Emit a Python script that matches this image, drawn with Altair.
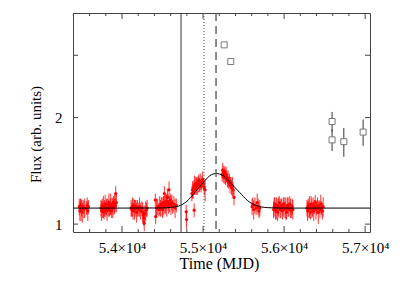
import altair as alt
import pandas as pd

W, H = 297, 219

# ---- red light-curve points (MJD, flux, error) ----
red_mjd = [
    53472, 53480, 53487, 53494, 53502, 53510, 53520, 53530, 53540, 53562, 53570, 53578, 53585,
    53740, 53748, 53755, 53762, 53770, 53778, 53785, 53792, 53800, 53808, 53815, 53822, 53830,
    53838, 53845, 53852, 53860, 53868, 53876, 53885, 53893, 53900, 53908, 53915, 53922, 53930,
    54112, 54120, 54128, 54136, 54145, 54153, 54162, 54170, 54180, 54190, 54200, 54215, 54230,
    54245, 54255, 54262, 54268, 54274, 54282, 54292, 54300, 54310,
    54410, 54415, 54425, 54440, 54455, 54465, 54475, 54485, 54495, 54502, 54510, 54516, 54522,
    54530, 54538, 54545, 54552, 54560, 54568, 54575, 54580, 54588, 54596, 54605, 54615, 54625,
    54640, 54655, 54670,
    54792, 54796, 54890,
    54862, 54870, 54878, 54885, 54895, 54903, 54910, 54918, 54925, 54933, 54940, 54948, 54956,
    54965, 54975, 54985, 54995, 55005, 55015, 55025,
    55235, 55242, 55248, 55255, 55262, 55270, 55278, 55285, 55293, 55300, 55308, 55316, 55325,
    55334, 55343, 55352, 55362, 55372, 55382,
    55605, 55615, 55625, 55640, 55655, 55668, 55680, 55690, 55700,
    55870, 55878, 55885, 55895, 55903, 55912, 55920, 55930, 55940, 55950, 55960, 55970, 55980,
    55990, 56000, 56010, 56020, 56030, 56040, 56050, 56060, 56070, 56080, 56090, 56100, 56108,
    56282, 56290, 56298, 56306, 56315, 56324, 56333, 56342, 56350, 56358, 56366, 56375, 56384,
    56393, 56402, 56412, 56422, 56432, 56442, 56452, 56462, 56472, 56482,
]
red_flux = [
    1.12, 1.09, 1.13, 1.10, 1.11, 1.08, 1.12, 1.10, 1.11, 1.11, 1.13, 1.09, 1.12,
    1.11, 1.09, 1.13, 1.10, 1.12, 1.08, 1.11, 1.14, 1.10, 1.12, 1.09, 1.13, 1.11,
    1.15, 1.10, 1.12, 1.14, 1.09, 1.13, 1.11, 1.15, 1.12, 1.14, 1.13, 1.22, 1.15,
    1.11, 1.10, 1.12, 1.09, 1.13, 1.10, 1.11, 1.12, 1.08, 1.11, 1.10, 1.12, 1.09,
    1.11, 1.08, 1.06, 1.04, 1.005, 1.07, 1.09, 1.10, 1.11,
    1.17, 1.05, 1.11, 1.12, 1.10, 1.13, 1.11, 1.14, 1.12, 1.10, 1.15, 1.13, 1.22,
    1.12, 1.14, 1.16, 1.13, 1.19, 1.15, 1.12, 1.25, 1.14, 1.17, 1.13, 1.15, 1.12,
    1.14, 1.11, 1.13,
    1.083, 1.03, 1.095,
    1.22, 1.25, 1.23, 1.27, 1.29, 1.26, 1.30, 1.28, 1.31, 1.27, 1.30, 1.33, 1.29,
    1.32, 1.28, 1.31, 1.34, 1.30, 1.27, 1.25,
    1.38, 1.42, 1.36, 1.40, 1.37, 1.41, 1.35, 1.38, 1.36, 1.33, 1.35, 1.31, 1.33,
    1.29, 1.31, 1.27, 1.28, 1.25, 1.19,
    1.12, 1.14, 1.10, 1.13, 1.11, 1.15, 1.12, 1.09, 1.11,
    1.10, 1.12, 1.14, 1.09, 1.11, 1.13, 1.08, 1.12, 1.15, 1.10, 1.11, 1.13, 1.09,
    1.12, 1.14, 1.10, 1.11, 1.08, 1.13, 1.12, 1.10, 1.14, 1.11, 1.09, 1.12, 1.10,
    1.11, 1.09, 1.13, 1.10, 1.12, 1.08, 1.14, 1.11, 1.10, 1.13, 1.09, 1.12, 1.15,
    1.10, 1.11, 1.13, 1.08, 1.12, 1.10, 1.14, 1.11, 1.09, 1.12,
]
red_err = [
    0.06, 0.07, 0.05, 0.08, 0.06, 0.07, 0.05, 0.06, 0.07, 0.05, 0.06, 0.07, 0.05,
    0.06, 0.07, 0.05, 0.06, 0.08, 0.05, 0.06, 0.07, 0.05, 0.06, 0.07, 0.05, 0.06,
    0.07, 0.05, 0.06, 0.08, 0.05, 0.06, 0.07, 0.05, 0.06, 0.07, 0.05, 0.06, 0.07,
    0.06, 0.05, 0.07, 0.06, 0.05, 0.07, 0.06, 0.05, 0.07, 0.06, 0.05, 0.07, 0.06,
    0.05, 0.07, 0.06, 0.05, 0.05, 0.06, 0.07, 0.05, 0.06,
    0.05, 0.05, 0.07, 0.06, 0.05, 0.07, 0.06, 0.05, 0.07, 0.06, 0.05, 0.07, 0.06,
    0.05, 0.07, 0.06, 0.08, 0.07, 0.06, 0.05, 0.07, 0.06, 0.05, 0.07, 0.06, 0.05,
    0.06, 0.07, 0.05,
    0.05, 0.06, 0.05,
    0.06, 0.07, 0.05, 0.06, 0.08, 0.05, 0.06, 0.07, 0.05, 0.06, 0.07, 0.05, 0.06,
    0.07, 0.05, 0.06, 0.07, 0.05, 0.06, 0.09,
    0.06, 0.07, 0.05, 0.06, 0.07, 0.05, 0.06, 0.07, 0.05, 0.06, 0.07, 0.05, 0.06,
    0.07, 0.05, 0.06, 0.08, 0.06, 0.06,
    0.06, 0.05, 0.07, 0.06, 0.05, 0.07, 0.06, 0.05, 0.06,
    0.06, 0.07, 0.05, 0.06, 0.08, 0.05, 0.06, 0.07, 0.05, 0.06, 0.07, 0.05, 0.06,
    0.07, 0.05, 0.06, 0.08, 0.05, 0.06, 0.07, 0.05, 0.06, 0.07, 0.05, 0.06, 0.07,
    0.06, 0.07, 0.05, 0.06, 0.08, 0.05, 0.06, 0.07, 0.05, 0.06, 0.07, 0.05, 0.06,
    0.07, 0.05, 0.06, 0.08, 0.05, 0.06, 0.07, 0.05, 0.06, 0.07,
]

# ---- grey open squares (MJD, flux, error) ----
sq_mjd = [55260, 55342, 56592, 56592, 56737, 56975]
sq_flux = [3.21, 2.88, 1.95, 1.73, 1.71, 1.82]
sq_err = [0.03, 0.06, 0.125, 0.12, 0.16, 0.155]

# ---- model curve ----
curve_mjd = [53395, 54000, 54500, 54600, 54700, 54800, 54900, 55000, 55100, 55160,
             55250, 55350, 55450, 55550, 55650, 55800, 56000, 57060]
curve_flux = [1.11, 1.11, 1.111, 1.115, 1.125, 1.16, 1.23, 1.31, 1.378, 1.39,
              1.37, 1.30, 1.23, 1.165, 1.13, 1.113, 1.11, 1.11]

# ---- vertical markers ----
vsolid = [54728]
vdotted = [55012]
vdashed = [55160]

# ---- tick positions ----
x_major = [54000, 55000, 56000, 57000]
x_minor = [53400, 53600, 53800, 54200, 54400, 54600, 54800, 55200, 55400, 55600,
           55800, 56200, 56400, 56600, 56800]
y_major = [1, 2, 3]

FRAME = "#444444"
FONT = "Liberation Serif"

x_scale = alt.Scale(domain=[53395, 57060], nice=False, zero=False)
y_scale = alt.Scale(type="log", domain=[0.95, 3.95], nice=False)

red_df = pd.DataFrame({"mjd": red_mjd, "flux": red_flux, "err": red_err})
red_df["lo"] = red_df["flux"] - red_df["err"]
red_df["hi"] = red_df["flux"] + red_df["err"]
sq_df = pd.DataFrame({"mjd": sq_mjd, "flux": sq_flux, "err": sq_err})
sq_df["lo"] = sq_df["flux"] - sq_df["err"]
sq_df["hi"] = sq_df["flux"] + sq_df["err"]
curve_df = pd.DataFrame({"mjd": curve_mjd, "flux": curve_flux})

x_axis = alt.Axis(
    values=x_major, labelExpr="format(datum.value/10000, '.1f') + '×10⁴'",
    title="Time (MJD)", domain=False, ticks=False, tickSize=0, grid=False,
    labelPadding=20, labelBaseline="alphabetic", labelFlush=False, labelOverlap=False,
    labelFontSize=15, labelFont=FONT, labelColor="#000",
    titleFontSize=16, titleFont=FONT, titleFontWeight="normal", titleColor="#000",
    titleX=146, titleY=36, titleAlign="center", titleBaseline="alphabetic",
)
y_axis = alt.Axis(
    values=[1, 2], labelExpr="format(datum.value, 'd')",
    title="Flux (arb. units)", domain=False, ticks=False, tickSize=0, grid=False,
    labelPadding=11, labelFontSize=15, labelFont=FONT, labelColor="#000",
    labelBaseline="middle", labelFlush=False, labelOverlap=False,
    titleFontSize=15, titleFont=FONT, titleFontWeight="normal", titleColor="#000",
    titleX=-38, titleY=121, titleAngle=270, titleAlign="center", titleBaseline="middle",
)

X = lambda f: alt.X(f, scale=x_scale, axis=x_axis)
Y = lambda f: alt.Y(f, scale=y_scale, axis=y_axis)

red_err_layer = alt.Chart(red_df).mark_rule(color="#ff0000", strokeWidth=1, opacity=0.8, clip=True).encode(
    x=X("mjd:Q"), y=Y("lo:Q"), y2="hi:Q",
)
red_pts = alt.Chart(red_df).mark_point(shape="circle", filled=True, size=10, color="#ff0000", opacity=1, clip=True).encode(
    x=X("mjd:Q"), y=Y("flux:Q"),
)
sq_err_layer = alt.Chart(sq_df).mark_rule(color="#333333", strokeWidth=1, clip=True).encode(
    x=X("mjd:Q"), y=Y("lo:Q"), y2="hi:Q",
)
sq_pts = alt.Chart(sq_df).mark_point(shape="square", filled=True, fill="white", size=36, stroke="#777777", strokeWidth=1, opacity=1, clip=True).encode(
    x=X("mjd:Q"), y=Y("flux:Q"),
)
curve = alt.Chart(curve_df).mark_line(color="#000000", strokeWidth=1, interpolate="monotone", clip=True).encode(
    x=X("mjd:Q"), y=Y("flux:Q"),
)

def vline(vals, **kw):
    return alt.Chart(pd.DataFrame({"v": vals})).mark_rule(**kw).encode(
        x=X("v:Q"), y=alt.value(0), y2=alt.value(H),
    )

v1 = vline(vsolid, color="#333333", strokeWidth=1)
v2 = vline(vdotted, color="#555555", strokeWidth=1, strokeDash=[1, 2])
v3 = vline(vdashed, color="#666666", strokeWidth=1.5, strokeDash=[8, 5])

def xticks(vals, y0, y1):
    return alt.Chart(pd.DataFrame({"v": vals})).mark_rule(color=FRAME, strokeWidth=1).encode(
        x=X("v:Q"), y=alt.value(y0), y2=alt.value(y1),
    )

def yticks(vals, x0, x1):
    return alt.Chart(pd.DataFrame({"v": vals})).mark_rule(color=FRAME, strokeWidth=1).encode(
        y=Y("v:Q"), x=alt.value(x0), x2=alt.value(x1),
    )

ticks = [
    xticks(x_major, H, H - 6), xticks(x_major, 0, 6),
    xticks(x_minor, H, H - 3), xticks(x_minor, 0, 3),
    yticks(y_major, 0, 5), yticks(y_major, W, W - 5),
]

chart = alt.layer(
    red_err_layer, red_pts, curve, v1, v2, v3, sq_err_layer, sq_pts, *ticks
).properties(
    width=W, height=H,
    padding={"left": 65, "top": 5, "right": 20, "bottom": 40},
    autosize=alt.AutoSizeParams(type="none"),
    background="white",
).configure_view(
    stroke=FRAME, strokeWidth=1
)

chart.save("out.html", embed_options={"renderer": "svg", "actions": False})
